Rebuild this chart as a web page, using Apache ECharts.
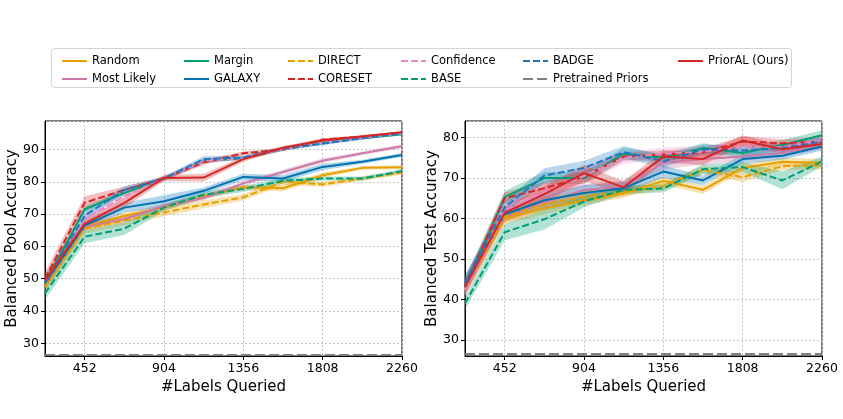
<!DOCTYPE html>
<html>
<head>
<meta charset="utf-8">
<script src="https://cdn.jsdelivr.net/npm/echarts@6/dist/echarts.min.js"></script>
<style>
  html, body { margin: 0; padding: 0; background: #fff; }
  #chart { width: 843px; height: 419px; }
</style>
</head>
<body>
<div id="chart"></div>
<script>
// x positions (# labels queried)
var labelsQueried = [226, 452, 678, 904, 1130, 1356, 1582, 1808, 2034, 2260]

// balanced pool accuracy (left panel): mean and half band width
var poolRandom     = [47.5, 66.0, 69.5, 72.0, 75.5, 78.3, 78.0, 82.0, 84.3, 84.5]
var poolMostLikely = [48.0, 66.0, 68.5, 72.5, 75.0, 79.5, 83.0, 86.5, 88.8, 91.0]
var poolMargin     = [48.5, 71.5, 76.5, 81.0, 86.5, 87.3, 90.0, 92.0, 93.5, 94.7]
var poolGalaxy     = [48.5, 66.5, 72.0, 74.0, 77.2, 81.5, 81.0, 84.6, 86.2, 88.3]
var poolDirect     = [47.5, 65.5, 68.0, 70.5, 73.0, 75.2, 80.0, 79.2, 81.0, 82.8]
var poolCoreset    = [50.0, 73.5, 77.5, 81.0, 86.0, 88.8, 90.0, 93.0, 94.0, 95.2]
var poolConfidence = [49.0, 68.5, 75.5, 81.0, 86.5, 87.3, 90.0, 92.0, 93.5, 95.0]
var poolBase       = [45.5, 63.0, 65.5, 72.0, 76.0, 77.8, 80.3, 81.0, 81.0, 83.3]
var poolBadge      = [49.0, 69.5, 77.5, 81.0, 87.0, 87.5, 90.3, 91.8, 93.5, 95.0]
var poolPriorAL    = [49.5, 67.0, 73.5, 81.2, 81.3, 87.0, 90.5, 92.8, 94.0, 95.3]
var poolPretrained = [26.4]

var poolStdRandom     = [1.5, 1.0, 1.0, 1.0, 0.8, 0.8, 1.0, 0.8, 0.6, 0.6]
var poolStdMostLikely = [1.0, 1.0, 1.0, 0.8, 0.8, 0.8, 0.8, 0.8, 0.6, 0.6]
var poolStdMargin     = [1.0, 1.0, 1.0, 0.6, 0.6, 0.6, 0.5, 0.5, 0.4, 0.4]
var poolStdGalaxy     = [1.5, 1.5, 1.5, 1.8, 1.0, 1.0, 1.0, 1.0, 0.6, 0.6]
var poolStdDirect     = [1.5, 1.5, 1.5, 1.2, 1.2, 1.0, 1.0, 0.8, 0.6, 0.6]
var poolStdCoreset    = [2.0, 2.0, 1.0, 0.6, 0.8, 0.6, 0.5, 0.5, 0.4, 0.4]
var poolStdConfidence = [1.0, 1.5, 1.5, 0.8, 0.8, 0.6, 0.5, 0.5, 0.4, 0.4]
var poolStdBase       = [2.0, 2.0, 2.0, 1.0, 1.0, 1.0, 0.8, 0.6, 0.6, 0.6]
var poolStdBadge      = [1.5, 1.5, 1.0, 0.6, 1.0, 0.6, 0.5, 0.5, 0.4, 0.4]
var poolStdPriorAL    = [2.0, 1.5, 1.5, 1.0, 1.2, 0.8, 0.6, 0.5, 0.4, 0.4]

// balanced test accuracy (right panel)
var testRandom     = [42.5, 60.0, 62.5, 64.5, 66.2, 69.3, 67.1, 72.5, 74.0, 73.7]
var testMostLikely = [42.0, 60.5, 64.0, 67.0, 68.0, 73.7, 74.7, 75.3, 76.2, 78.2]
var testMargin     = [43.0, 65.3, 70.0, 70.0, 76.0, 75.0, 77.4, 76.2, 78.2, 80.6]
var testGalaxy     = [44.0, 61.0, 64.5, 66.3, 67.5, 71.6, 69.4, 74.7, 75.5, 77.8]
var testDirect     = [42.5, 60.5, 63.5, 65.4, 66.5, 68.0, 72.0, 70.2, 72.9, 73.2]
var testCoreset    = [43.5, 65.0, 67.5, 70.3, 75.3, 75.8, 76.3, 79.0, 78.6, 79.0]
var testConfidence = [42.5, 62.0, 66.5, 70.5, 75.0, 76.0, 76.5, 77.8, 77.6, 79.4]
var testBase       = [39.0, 56.6, 59.8, 64.2, 67.1, 67.4, 72.2, 72.7, 69.4, 74.1]
var testBadge      = [44.0, 62.8, 70.6, 72.5, 76.4, 74.1, 77.1, 76.8, 77.4, 79.0]
var testPriorAL    = [43.0, 61.4, 66.0, 71.2, 67.7, 75.3, 74.7, 79.3, 77.1, 78.4]
var testPretrained = [26.5]

var testStdRandom     = [1.5, 1.5, 1.5, 1.2, 1.0, 1.0, 1.0, 1.0, 1.0, 1.0]
var testStdMostLikely = [1.5, 1.5, 1.5, 1.5, 1.5, 1.5, 1.5, 1.0, 1.0, 1.0]
var testStdMargin     = [2.0, 1.5, 1.5, 1.5, 1.5, 1.0, 1.2, 1.2, 1.2, 1.2]
var testStdGalaxy     = [2.0, 1.5, 1.8, 2.0, 1.5, 1.5, 1.2, 1.2, 1.0, 1.0]
var testStdDirect     = [1.5, 1.5, 1.5, 1.5, 1.0, 1.0, 1.0, 1.2, 1.0, 1.0]
var testStdCoreset    = [1.5, 1.5, 1.5, 1.5, 1.0, 1.0, 1.0, 1.3, 1.0, 1.0]
var testStdConfidence = [1.5, 1.5, 2.0, 2.0, 1.5, 1.5, 1.5, 1.2, 1.2, 1.0]
var testStdBase       = [1.5, 2.0, 2.5, 1.5, 1.0, 1.0, 1.2, 1.2, 2.2, 1.2]
var testStdBadge      = [2.0, 1.5, 1.8, 1.8, 1.5, 1.5, 1.2, 1.0, 1.0, 1.0]
var testStdPriorAL    = [1.5, 1.5, 2.0, 2.0, 1.5, 1.5, 1.5, 1.3, 1.0, 1.0]

var ORANGE = '#e69f00'
var PINK = '#cc79a7'
var LIGHTPINK = '#e78ac3'
var GREEN = '#009e73'
var BLUE = '#0072b2'
var LIGHTBLUE = '#1f77c4'
var RED = '#d62728'
var GRAY = '#7f7f7f'
var DASH = [7, 3]
var LONGDASH = [10, 4]

var methods = [
  // name, pool mean, pool std, test mean, test std, colour, dashed
  ['Random', poolRandom, poolStdRandom, testRandom, testStdRandom, ORANGE, false],
  ['Most Likely', poolMostLikely, poolStdMostLikely, testMostLikely, testStdMostLikely, PINK, false],
  ['Margin', poolMargin, poolStdMargin, testMargin, testStdMargin, GREEN, false],
  ['GALAXY', poolGalaxy, poolStdGalaxy, testGalaxy, testStdGalaxy, BLUE, false],
  ['DIRECT', poolDirect, poolStdDirect, testDirect, testStdDirect, ORANGE, true],
  ['CORESET', poolCoreset, poolStdCoreset, testCoreset, testStdCoreset, RED, true],
  ['Confidence', poolConfidence, poolStdConfidence, testConfidence, testStdConfidence, LIGHTPINK, true],
  ['BASE', poolBase, poolStdBase, testBase, testStdBase, GREEN, true],
  ['BADGE', poolBadge, poolStdBadge, testBadge, testStdBadge, LIGHTBLUE, true],
  ['PriorAL (Ours)', poolPriorAL, poolStdPriorAL, testPriorAL, testStdPriorAL, RED, false]
]

var series = []

function addMethod (g, name, means, stds, color, dashed, order) {
  var lower = []
  var width = []
  for (var i = 0; i < means.length; i++) {
    lower.push(+(means[i] - stds[i]).toFixed(2))
    width.push(+(2 * stds[i]).toFixed(2))
  }
  var stack = 'band' + g + '_' + order
  series.push({
    name: name + ' lo' + g, type: 'line', xAxisIndex: g, yAxisIndex: g,
    stack: stack, data: lower, symbol: 'none', silent: true,
    lineStyle: { opacity: 0 }, z: 2 + order * 0.01
  })
  series.push({
    name: name + ' hi' + g, type: 'line', xAxisIndex: g, yAxisIndex: g,
    stack: stack, data: width, symbol: 'none', silent: true,
    lineStyle: { opacity: 0 }, areaStyle: { color: color, opacity: 0.3 },
    z: 2 + order * 0.01
  })
  series.push({
    name: name, type: 'line', xAxisIndex: g, yAxisIndex: g,
    data: means, symbol: 'none', silent: true,
    itemStyle: { color: color },
    lineStyle: { color: color, width: 2, type: dashed ? DASH : 'solid' },
    z: 3 + order * 0.01
  })
}

methods.forEach(function (m, k) {
  addMethod(0, m[0], m[1], m[2], m[5], m[6], k)
  addMethod(1, m[0], m[3], m[4], m[5], m[6], k)
  if (k === 8) {
    // pretrained priors baseline, drawn before PriorAL
    [poolPretrained, testPretrained].forEach(function (p, g) {
      series.push({
        name: 'Pretrained Priors', type: 'line', xAxisIndex: g, yAxisIndex: g,
        data: labelsQueried.map(function () { return p[0] }),
        symbol: 'none', silent: true,
        itemStyle: { color: GRAY },
        lineStyle: { color: GRAY, width: 2, type: LONGDASH }, z: 3.5
      })
    })
  }
})

var showEvery = function (idx) { return idx % 2 === 1 }

function makeX (g) {
  return {
    type: 'category', gridIndex: g, boundaryGap: false,
    data: labelsQueried.map(String),
    axisLine: { show: true, lineStyle: { color: '#000', width: 1 } },
    axisTick: { show: true, interval: showEvery, length: 4, lineStyle: { color: '#000' } },
    axisLabel: { interval: showEvery, fontSize: 12.5, color: '#000', margin: 6 },
    splitLine: { show: true, interval: showEvery, lineStyle: { color: '#c8c8c8', type: [2, 2], width: 1 } },
    name: '#Labels Queried', nameLocation: 'middle', nameGap: 17,
    nameTextStyle: { fontSize: 15, color: '#000' }
  }
}

function makeY (g, min, max, title) {
  return {
    type: 'value', gridIndex: g, min: min, max: max,
    minInterval: 10, maxInterval: 10,
    axisLine: { show: true, lineStyle: { color: '#000', width: 1 } },
    axisTick: { show: true, length: 4, lineStyle: { color: '#000' } },
    axisLabel: { fontSize: 12.5, color: '#000', margin: 6, showMinLabel: false, showMaxLabel: false },
    splitLine: { show: true, lineStyle: { color: '#c8c8c8', type: [2, 2], width: 1 } },
    name: title, nameLocation: 'middle', nameGap: 24,
    nameTextStyle: { fontSize: 15, color: '#000' }
  }
}

var legendCols = [
  ['Random', 'Most Likely'],
  ['Margin', 'GALAXY'],
  ['DIRECT', 'CORESET'],
  ['Confidence', 'BASE'],
  ['BADGE', 'Pretrained Priors'],
  ['PriorAL (Ours)']
]
var legendLefts = [56, 178, 282, 395, 517, 672]

var option = {
  animation: false,
  textStyle: { fontFamily: 'DejaVu Sans' },
  graphic: [{
    type: 'rect', z: 0,
    shape: { x: 51.5, y: 48.5, width: 740, height: 39, r: 3 },
    style: { fill: '#fff', stroke: '#d4d4d4', lineWidth: 1 }
  }],
  legend: legendCols.map(function (col, i) {
    return {
      orient: 'vertical', left: legendLefts[i], top: 50,
      itemWidth: 25, itemHeight: 10, itemGap: 6,
      selectedMode: false,
      itemStyle: { opacity: 0 },
      textStyle: { fontSize: 11.5, color: '#000', lineHeight: 12 },
      data: col
    }
  }),
  grid: [
    { left: 45, top: 121, width: 357, height: 235, show: true, borderColor: '#000', borderWidth: 1 },
    { left: 465, top: 121, width: 357, height: 235, show: true, borderColor: '#000', borderWidth: 1 }
  ],
  xAxis: [makeX(0), makeX(1)],
  yAxis: [
    makeY(0, 26.1, 98.8, 'Balanced Pool Accuracy'),
    makeY(1, 26.0, 84.1, 'Balanced Test Accuracy')
  ],
  series: series
}

var chart = echarts.init(document.getElementById('chart'))
chart.setOption(option)
</script>
</body>
</html>
